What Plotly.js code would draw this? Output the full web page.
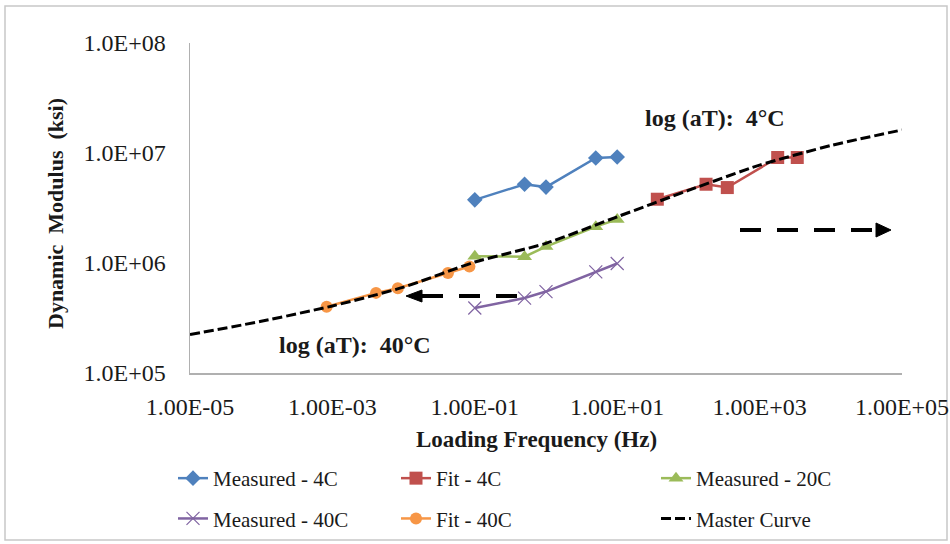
<!DOCTYPE html>
<html>
<head>
<meta charset="utf-8">
<script src="https://cdn.plot.ly/plotly-3.0.1.min.js"></script>
<style>
  html, body { margin: 0; padding: 0; background: #ffffff; }
  #chart { width: 950px; height: 544px; }
</style>
</head>
<body>
<div id="chart"></div>
<script>
// Test frequencies (Hz)
const measuredFreq = [0.1, 0.5, 1, 5, 10];

// Dynamic modulus (ksi)
const measured4C = [3.75e6, 5.2e6, 4.9e6, 9.0e6, 9.2e6];
const measured20C = [1.15e6, 1.14e6, 1.41e6, 2.14e6, 2.49e6];
const measured40C = [3.9e5, 4.8e5, 5.5e5, 8.3e5, 9.9e5];

// Shifted (reduced) frequencies and fitted modulus
const fit4CFreq = [36.6, 177, 352, 1795, 3380];
const fit4C = [3.8e6, 5.2e6, 4.85e6, 9.1e6, 9.1e6];
const fit40CFreq = [8.3e-4, 4.1e-3, 8.3e-3, 4.2e-2, 8.4e-2];
const fit40C = [4.0e5, 5.35e5, 5.9e5, 8.1e5, 9.3e5];

// Master curve at reference temperature
const masterFreq = [1e-5, 1e-4, 1e-3, 1e-2, 1e-1, 1, 10, 100, 1e3, 1e4, 1e5];
const masterModulus = [2.24e5, 2.95e5, 4.07e5, 6.03e5, 1.02e6, 1.51e6, 2.63e6, 4.57e6, 7.76e6, 1.17e7, 1.62e7];

// Axis ticks
const xTickVals = [1e-5, 1e-3, 1e-1, 1e1, 1e3, 1e5];
const xTickText = ["1.00E-05", "1.00E-03", "1.00E-01", "1.00E+01", "1.00E+03", "1.00E+05"];
const yTickVals = [1e5, 1e6, 1e7, 1e8];
const yTickText = ["1.0E+05", "1.0E+06", "1.0E+07", "1.0E+08"];

const FONT = "Liberation Serif, Times New Roman, serif";
const TXT = "#1a1a1a";

function series(name, x, y, color, symbol, size, legend, extra) {
  return Object.assign({
    type: "scatter",
    mode: "lines+markers",
    name: name,
    x: x,
    y: y,
    legend: legend,
    legendgroup: name,
    line: { color: color, width: 2.5 },
    marker: { color: color, symbol: symbol, size: size }
  }, extra || {});
}

const traces = [
  series("Measured - 4C", measuredFreq, measured4C, "#4F81BD", "diamond", 12, "legend"),
  series("Fit - 4C", fit4CFreq, fit4C, "#C0504D", "square", 13, "legend2"),
  series("Measured - 20C", measuredFreq, measured20C, "#9BBB59", "triangle-up", 13, "legend3"),
  series("Measured - 40C", measuredFreq, measured40C, "#8064A2", "x-thin-open", 13, "legend",
    { marker: { color: "#8064A2", symbol: "x-thin-open", size: 13, line: { color: "#8064A2", width: 1.2 } } }),
  series("Fit - 40C", fit40CFreq, fit40C, "#F79646", "circle", 12, "legend2"),
  {
    type: "scatter",
    mode: "lines",
    name: "Master Curve",
    x: masterFreq,
    y: masterModulus,
    legend: "legend3",
    legendgroup: "Master Curve",
    line: { color: "#000000", width: 3, dash: "10px,4px", shape: "spline", smoothing: 0.6 }
  }
];

// paper-coordinate helpers for the plot area (190..902 px, 43..373 px)
const PL = 190, PR = 902, PT = 43, PB = 373;
const px = v => (v - PL) / (PR - PL);
const py = v => (PB - v) / (PB - PT);

function arrow(xStart, xEnd, xTip, y, half) {
  const line = {
    type: "line", xref: "paper", yref: "paper",
    x0: px(xStart), x1: px(xEnd), y0: py(y), y1: py(y),
    line: { color: "#000000", width: 4, dash: "21px,16px" }
  };
  const head = {
    type: "path", xref: "paper", yref: "paper",
    path: "M" + px(xTip) + "," + py(y) +
          " L" + px(xEnd) + "," + py(y - half) +
          " L" + px(xEnd) + "," + py(y + half) + " Z",
    fillcolor: "#000000",
    line: { color: "#000000", width: 1 }
  };
  return [line, head];
}

const shapes = [
  // chart frame
  {
    type: "rect", xref: "paper", yref: "paper", layer: "below",
    x0: px(5), x1: px(947), y0: py(540), y1: py(6),
    line: { color: "#c8c8c8", width: 1.5 }, fillcolor: "rgba(0,0,0,0)"
  }
].concat(arrow(517, 422, 406, 296, 6), arrow(740, 876, 891, 230, 7));

const legendBase = {
  orientation: "v",
  xref: "container", yref: "container",
  xanchor: "left", yanchor: "top",
  y: 1 - 458 / 544,
  bgcolor: "rgba(0,0,0,0)",
  borderwidth: 0,
  tracegroupgap: 10,
  font: { family: FONT, size: 21, color: TXT },
  itemclick: false
};

const layout = {
  width: 950,
  height: 544,
  margin: { l: PL, r: 950 - PR, t: PT, b: 544 - PB, autoexpand: false },
  paper_bgcolor: "#ffffff",
  plot_bgcolor: "#ffffff",
  font: { family: FONT, size: 24, color: TXT },
  xaxis: {
    type: "log",
    range: [-5, 5],
    tickvals: xTickVals,
    ticktext: xTickText,
    tickangle: 0,
    showgrid: false,
    zeroline: false,
    showline: true,
    linecolor: "#b0b0b0",
    linewidth: 1.5,
    ticks: "",
    ticklabelstandoff: 12,
    tickfont: { family: FONT, size: 24, color: TXT }
  },
  yaxis: {
    type: "log",
    range: [5, 8],
    tickvals: yTickVals,
    ticktext: yTickText,
    showgrid: false,
    zeroline: false,
    showline: true,
    linecolor: "#b0b0b0",
    linewidth: 1.5,
    ticks: "",
    ticklabelstandoff: 18,
    tickfont: { family: FONT, size: 24, color: TXT }
  },
  legend: Object.assign({}, legendBase, { x: 173 / 950 }),
  legend2: Object.assign({}, legendBase, { x: 396 / 950 }),
  legend3: Object.assign({}, legendBase, { x: 656 / 950 }),
  shapes: shapes,
  annotations: [
    // axis titles
    {
      xref: "paper", yref: "paper", x: px(536), y: py(439),
      xanchor: "center", yanchor: "middle",
      text: "<b>Loading Frequency (Hz)</b>", showarrow: false,
      font: { family: FONT, size: 23, color: TXT }
    },
    {
      xref: "paper", yref: "paper", x: px(55), y: py(214),
      xanchor: "center", yanchor: "middle", textangle: -90,
      text: "<b>Dynamic\u00a0 Modulus\u00a0 (ksi)</b>", showarrow: false,
      font: { family: FONT, size: 22, color: TXT }
    },
    // shift-factor labels
    {
      xref: "paper", yref: "paper", x: px(715), y: py(118),
      xanchor: "center", yanchor: "middle",
      text: "<b>log (aT):\u00a0 4°C</b>", showarrow: false,
      font: { family: FONT, size: 24, color: TXT }
    },
    {
      xref: "paper", yref: "paper", x: px(355), y: py(345),
      xanchor: "center", yanchor: "middle",
      text: "<b>log (aT):\u00a0 40°C</b>", showarrow: false,
      font: { family: FONT, size: 24, color: TXT }
    }
  ]
};

Plotly.newPlot("chart", traces, layout, { staticPlot: true, displayModeBar: false });
</script>
</body>
</html>
